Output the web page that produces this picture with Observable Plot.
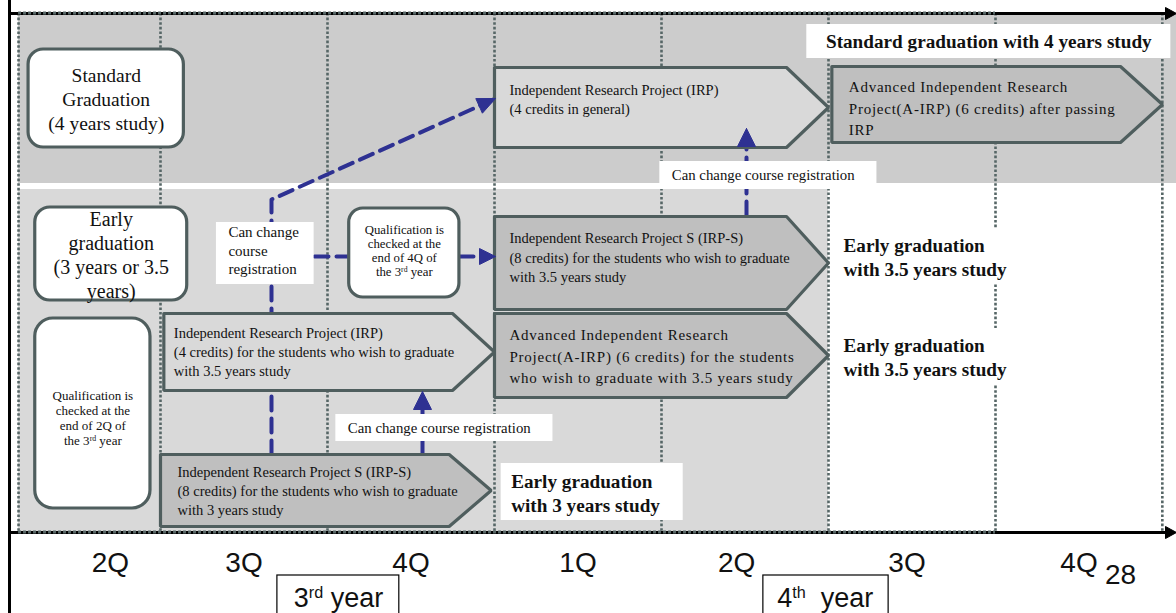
<!DOCTYPE html>
<html><head><meta charset="utf-8">
<script src="https://cdn.jsdelivr.net/npm/d3@7"></script>
<script src="https://cdn.jsdelivr.net/npm/@observablehq/plot@0.6"></script>
<style>body{margin:0;background:#fff;overflow:hidden} #chart svg{display:block}</style>
</head><body><div id="chart"></div>
<script>
// ---------------- DATA ----------------
const quarterLabels = ["2Q", "3Q", "4Q", "1Q", "2Q", "3Q", "4Q"];
const yearLabels = ["3rd year", "4th\u00a0 year"];
const pageNumber = "28";

// course blocks (arrow shapes); start / end in quarters
const courseNames = [
  "Independent Research Project (IRP)\n(4 credits in general)",
  "Advanced Independent Research\nProject(A-IRP) (6 credits) after passing\nIRP",
  "Independent Research Project S (IRP-S)\n(8 credits) for the students who wish to graduate\nwith 3.5 years study",
  "Independent Research Project (IRP)\n(4 credits) for the students who wish to graduate\nwith 3.5 years study",
  "Advanced Independent Research\nProject(A-IRP) (6 credits) for the students\nwho wish to graduate with 3.5 years study",
  "Independent Research Project S (IRP-S)\n(8 credits) for the students who wish to graduate\nwith 3 years study"
];
const courseStart = [3.0, 5.02, 3.0, 1.02, 3.0, 1.0];
const courseEnd = [5.0, 7.0, 5.0, 3.0, 5.0, 2.98];
const courseShade = ["light", "dark", "dark", "light", "dark", "dark"];
const courseWide = [false, true, false, false, true, false];

// rounded info boxes
const infoTexts = [
  "Standard\nGraduation\n(4 years study)",
  "Early\ngraduation\n(3 years or 3.5\nyears)",
  "Qualification is\nchecked at the\nend of 2Q of\nthe 3rd year",
  "Qualification is\nchecked at the\nend of 4Q of\nthe 3rd year"
];

// plain notes on white
const noteTexts = [
  "Can change course registration",
  "Can change\ncourse\nregistration",
  "Can change course registration"
];
const outcomeTexts = [
  "Standard graduation with 4 years study",
  "Early graduation\nwith 3.5 years study",
  "Early graduation\nwith 3.5 years study",
  "Early graduation\nwith 3 years study"
];

// ---------------- LAYOUT ----------------
const PXQ = 167;               // pixels per quarter
const q = px => px / PXQ;      // pixel length -> quarter length
const courseY1 = [67, 66, 216, 313, 313, 454];
const courseY2 = [147, 142, 309, 390, 397, 526];
const courseTextPad = [15, 17, 15, 10, 15, 17];
const courseTextY = [97.5, 106.5, 256, 350.5, 354.5, 489.5];

const infoX1 = [0.21, 0.25, 0.25, 2.13];
const infoX2 = [1.14, 1.16, 0.94, 2.79];
const infoY1 = [49, 207, 318, 208];
const infoY2 = [147, 300, 508, 297];
const infoTextY = [98, 254, 417.5, 250];
const infoFont = [19.5, 20, 13, 12.8];
const infoLH = [1.23, 1.19, 1.15, 1.1];
const infoR = [15, 15, 18, 14];

const noteX1 = [3.99, 1.335, 2.05];
const noteX2 = [5.29, 1.92, 3.35];
const noteY1 = [161, 222, 414];
const noteY2 = [189, 284, 441];
const noteTextY = [174, 249.5, 427];

const outX1 = [4.87, 5.03, 5.03, 3.04];
const outX2 = [7.05, 6.12, 6.12, 4.13];
const outY1 = [24, 228, 328, 463];
const outY2 = [58, 284, 384, 520];
const outTextY = [40, 256, 355.5, 491.5];
const outAnchor = ["middle", "start", "start", "start"];

const dividers = [0.15, 1, 2, 3, 4, 5, 6, 6.999];
const quarterCenters = [0.7, 1.5, 2.5, 3.5, 4.45, 5.47, 6.5];
const yearX1 = [1.7, 4.61], yearX2 = [2.43, 5.36], yearCX = [2.066, 4.98];

// ---------------- STYLE ----------------
const SERIF = "Liberation Serif";
const SANS = "Liberation Sans";
const EDGE = "#4f5e5e";
const DOT = "#566666";
const BLUE = "#2e3192";
const SHADE = {light: "#d9d9d9", dark: "#bfbfbf"};

// ---------------- DERIVED ----------------
const courses = courseNames.map((name, i) => ({
  i, name, x1: courseStart[i], x2: courseEnd[i], y1: courseY1[i], y2: courseY2[i],
  fill: SHADE[courseShade[i]], wide: courseWide[i],
  tx: courseStart[i] + q(courseTextPad[i]), ty: courseTextY[i]
}));
const tip = q(42);
function pentagon(c) {
  const m = (c.y1 + c.y2) / 2;
  return [[c.x1, c.y1], [c.x2 - tip, c.y1], [c.x2, m], [c.x2 - tip, c.y2], [c.x1, c.y2], [c.x1, c.y1]]
    .map(([x, y]) => ({x, y}));
}
const infos = infoTexts.map((t, i) => ({t, x1: infoX1[i], x2: infoX2[i], y1: infoY1[i], y2: infoY2[i],
  cx: (infoX1[i] + infoX2[i]) / 2, ty: infoTextY[i], fs: infoFont[i], lh: infoLH[i], r: infoR[i]}));
const notes = noteTexts.map((t, i) => ({t, x1: noteX1[i], x2: noteX2[i], y1: noteY1[i], y2: noteY2[i],
  tx: noteX1[i] + q(12), ty: noteTextY[i], fs: i === 1 ? 15 : 14.8, lh: i === 1 ? 1.23 : 1.2}));
const outs = outcomeTexts.map((t, i) => ({t, x1: outX1[i], x2: outX2[i], y1: outY1[i], y2: outY2[i],
  tx: outAnchor[i] === "middle" ? (outX1[i] + outX2[i]) / 2 : outX1[i] + q(10), ty: outTextY[i], a: outAnchor[i]}));

// blue connector paths (quarter x, pixel-row y)
const xA = q(278);   // dashed riser in 3Q
const blueDashed = [
  [{x: xA, y: 454}, {x: xA, y: 199}, {x: q(500), y: 99}],
  [{x: q(321), y: 256}, {x: q(355), y: 256}],
  [{x: q(466), y: 256}, {x: q(490), y: 256}],
  [{x: q(753), y: 215}, {x: q(753), y: 140}]
];
const blueSolid = [
  [{x: q(429), y: 454}, {x: q(429), y: 400}]
];
function head(tx, ty, fromx, fromy, L, W) {
  const dxp = (tx - fromx) * PXQ, dyp = ty - fromy;
  const n = Math.hypot(dxp, dyp), ux = dxp / n, uy = dyp / n;
  const bx = tx * PXQ - L * ux, by = ty - L * uy;
  const pts = [[tx * PXQ, ty], [bx - W * uy, by + W * ux], [bx + W * uy, by - W * ux], [tx * PXQ, ty]];
  return pts.map(([x, y]) => ({x: x / PXQ, y}));
}
const blueHeads = [
  head(q(502), 98, xA, 199, 18, 8),
  head(q(502), 256, q(466), 256, 16, 8),
  head(q(753), 128, q(753), 215, 18, 9),
  head(q(429), 391, q(429), 454, 18, 9)
];
const xEnd = q(1183);
const blackHeads = [head(xEnd, 13, 0.2, 13, 11, 6), head(xEnd, 532, 0.2, 532, 11, 6)];

// ---------------- MARKS ----------------
const marks = [
  Plot.rect([{x1: 0.15, x2: xEnd, y1: 13, y2: 183}], {x1: "x1", x2: "x2", y1: "y1", y2: "y2", fill: "#cccccc"}),
  Plot.rect([{x1: 0.15, x2: 5.0, y1: 189, y2: 531}], {x1: "x1", x2: "x2", y1: "y1", y2: "y2", fill: "#d9d9d9"}),
  Plot.ruleX(dividers, {x: d => d, y1: 13, y2: 531, stroke: DOT, strokeWidth: 2.6, strokeDasharray: "2.6,2"}),
  ...blueDashed.map(p => Plot.line(p, {x: "x", y: "y", stroke: BLUE, strokeWidth: 4, strokeDasharray: "14,8"})),
  ...blueSolid.map(p => Plot.line(p, {x: "x", y: "y", stroke: BLUE, strokeWidth: 4})),
  ...courses.map(c => Plot.line(pentagon(c), {x: "x", y: "y", fill: c.fill, stroke: EDGE, strokeWidth: 3.2, strokeLinejoin: "miter"})),
  ...infos.map(b => Plot.rect([b], {x1: "x1", x2: "x2", y1: "y1", y2: "y2", rx: b.r, fill: "white", stroke: EDGE, strokeWidth: 3.2})),
  Plot.rect(notes, {x1: "x1", x2: "x2", y1: "y1", y2: "y2", fill: "white"}),
  Plot.rect(outs, {x1: "x1", x2: "x2", y1: "y1", y2: "y2", fill: "white"}),
  ...blueHeads.map(h => Plot.line(h, {x: "x", y: "y", fill: BLUE, stroke: BLUE, strokeWidth: 1})),
  ...courses.map(c => Plot.text([c], {x: "tx", y: "ty", text: "name", textAnchor: "start", lineAnchor: "middle",
    fontFamily: SERIF, fontSize: c.wide ? 15 : 14.5, lineHeight: c.wide ? 1.43 : 1.33, fill: "#111"})),
  ...infos.map(b => Plot.text([b], {x: "cx", y: "ty", text: "t", textAnchor: "middle", lineAnchor: "middle",
    fontFamily: SERIF, fontSize: b.fs, lineHeight: b.lh, fill: "#111"})),
  ...notes.map(n => Plot.text([n], {x: "tx", y: "ty", text: "t", textAnchor: "start", lineAnchor: "middle",
    fontFamily: SERIF, fontSize: n.fs, lineHeight: n.lh, fill: "#111"})),
  ...outs.map(o => Plot.text([o], {x: "tx", y: "ty", text: "t", textAnchor: o.a, lineAnchor: "middle",
    fontFamily: SERIF, fontSize: 19.2, fontWeight: "bold", lineHeight: 1.24, fill: "#111"})),
  Plot.ruleX([q(16)], {y1: 0, y2: 613, stroke: "black", strokeWidth: 3}),
  Plot.ruleY([13, 532], {y: d => d, x1: q(16), x2: q(1176), stroke: "black", strokeWidth: 3}),
  Plot.ruleY([12.5, 531.5], {y: d => d, x1: 0.15, x2: 6.0, stroke: DOT, strokeWidth: 3, strokeDasharray: "3,2"}),
  ...blackHeads.map(h => Plot.line(h, {x: "x", y: "y", fill: "black", stroke: "black", strokeWidth: 1})),
  Plot.text(quarterLabels, {x: (d, i) => quarterCenters[i], y: 563, text: d => d, fontFamily: SANS, fontSize: 28, fill: "#111"}),
  Plot.text([pageNumber], {x: q(1127), y: 575, text: d => d, fontFamily: SANS, fontSize: 28, fill: "#111"}),
  Plot.rect(yearLabels, {x1: (d, i) => yearX1[i], x2: (d, i) => yearX2[i], y1: 575, y2: 616, fill: "white", stroke: "black", strokeWidth: 1.2}),
  Plot.text(yearLabels, {x: (d, i) => yearCX[i], y: 598, text: d => d, fontFamily: SANS, fontSize: 27, fill: "#111"})
];

const chart = Plot.plot({
  width: 1176, height: 613,
  marginTop: 0, marginRight: 0, marginBottom: 0, marginLeft: 0,
  x: {domain: [q(7), q(1183)], range: [0, 1176], axis: null},
  y: {domain: [0, 613], range: [0, 613], axis: null},
  style: {background: "white"},
  marks
});

// superscripts for ordinal suffixes
chart.querySelectorAll("text, tspan").forEach(el => {
  if (el.children.length) return;
  const m = el.textContent.match(/^(.*?\d)(rd|th)(.*)$/);
  if (!m) return;
  el.textContent = "";
  el.appendChild(document.createTextNode(m[1]));
  const sup = document.createElementNS("http://www.w3.org/2000/svg", "tspan");
  sup.setAttribute("baseline-shift", "super");
  sup.setAttribute("font-size", "60%");
  sup.textContent = m[2];
  el.appendChild(sup);
  el.appendChild(document.createTextNode(m[3]));
});
// widely tracked text in the A-IRP blocks
chart.querySelectorAll("text").forEach(t => {
  if (t.textContent.startsWith("Advanced Independent")) t.setAttribute("letter-spacing", "0.75");
  t.setAttribute("xml:space", "preserve");
});
document.getElementById("chart").appendChild(chart);
</script>
</body></html>
